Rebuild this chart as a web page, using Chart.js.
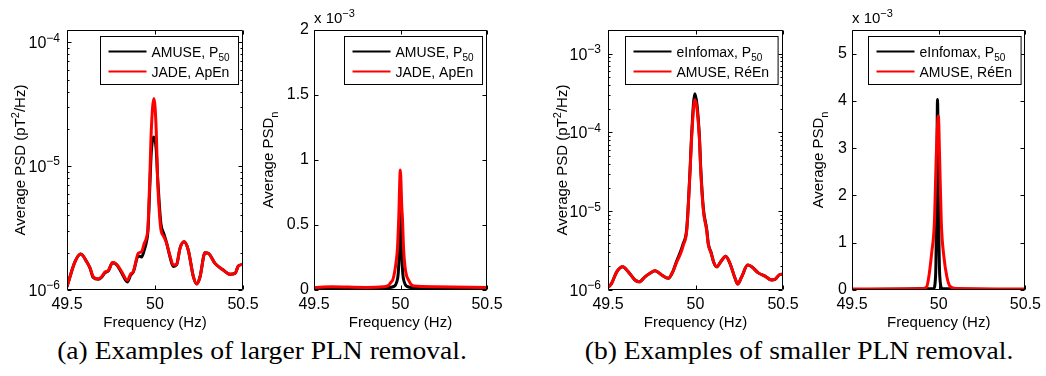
<!DOCTYPE html>
<html>
<head>
<meta charset="utf-8">
<script src="https://cdn.jsdelivr.net/npm/chart.js@4.4.0/dist/chart.umd.min.js"></script>
<style>
body { margin: 0; background: #fff; width: 1046px; height: 376px; position: relative; overflow: hidden; }
canvas { position: absolute; top: 0; }
.cap { position: absolute; top: 336px; font-family: "Liberation Serif", "DejaVu Serif", serif; font-size: 26px; white-space: nowrap; transform: translateX(-50%) scaleX(1.06); color: #000; }
</style>
</head>
<body>
<canvas id="c1" width="268" height="335" style="left:0px"></canvas>
<canvas id="c2" width="250" height="335" style="left:262px"></canvas>
<canvas id="c3" width="288" height="335" style="left:520px"></canvas>
<canvas id="c4" width="254" height="335" style="left:792px"></canvas>
<div class="cap" style="left:262px">(a) Examples of larger PLN removal.</div>
<div class="cap" style="left:799px">(b) Examples of smaller PLN removal.</div>
<script>
// shared x axis
const xTicks = [49.5, 50, 50.5]

// (a) left: average PSD, log axis
const freqA = [49.5, 49.517, 49.545, 49.578, 49.612, 49.631, 49.649, 49.678, 49.697, 49.716, 49.734, 49.759, 49.782, 49.81, 49.843, 49.862, 49.877, 49.905, 49.924, 49.939, 49.95, 49.96, 49.97, 49.979, 49.994, 50.007, 50.015, 50.025, 50.034, 50.05, 50.066, 50.085, 50.104, 50.123, 50.142, 50.165, 50.189, 50.218, 50.237, 50.256, 50.284, 50.303, 50.341, 50.388, 50.426, 50.455, 50.473, 50.5]
const psdA_amuse = [1.06e-6, 1.28e-6, 1.69e-6, 1.95e-6, 1.69e-6, 1.5e-6, 1.26e-6, 1.22e-6, 1.27e-6, 1.38e-6, 1.42e-6, 1.66e-6, 1.6e-6, 1.38e-6, 1.16e-6, 1.32e-6, 1.4e-6, 1.88e-6, 1.85e-6, 2.1e-6, 2.4e-6, 3.0e-6, 6.5e-6, 1.3e-5, 1.72e-5, 1.35e-5, 8.0e-6, 4.8e-6, 3.4e-6, 2.85e-6, 2.4e-6, 1.85e-6, 1.55e-6, 1.6e-6, 2.17e-6, 2.45e-6, 2.1e-6, 1.28e-6, 1.12e-6, 1.28e-6, 2.0e-6, 1.98e-6, 1.64e-6, 1.45e-6, 1.34e-6, 1.36e-6, 1.56e-6, 1.61e-6]
const psdA_jade = [1.06e-6, 1.28e-6, 1.69e-6, 1.95e-6, 1.69e-6, 1.5e-6, 1.28e-6, 1.23e-6, 1.28e-6, 1.4e-6, 1.43e-6, 1.67e-6, 1.61e-6, 1.41e-6, 1.2e-6, 1.35e-6, 1.41e-6, 1.98e-6, 2.04e-6, 2.38e-6, 2.6e-6, 3.2e-6, 7.7e-6, 1.95e-5, 3.52e-5, 1.95e-5, 7.7e-6, 4.2e-6, 3.05e-6, 2.7e-6, 2.38e-6, 1.9e-6, 1.59e-6, 1.61e-6, 2.17e-6, 2.45e-6, 2.1e-6, 1.28e-6, 1.12e-6, 1.28e-6, 2.0e-6, 1.98e-6, 1.64e-6, 1.45e-6, 1.34e-6, 1.36e-6, 1.56e-6, 1.61e-6]
const yExpA = [-6, -5, -4]

// (a) right: normalised PSD, x 10^-3
const freqB_amuse = [49.5, 49.9, 49.965, 49.978, 49.987, 49.993, 49.997, 50.0, 50.003, 50.007, 50.013, 50.022, 50.035, 50.1, 50.5]
const psdnB_amuse = [0.012, 0.015, 0.03, 0.06, 0.13, 0.3, 0.55, 0.667, 0.55, 0.3, 0.13, 0.06, 0.03, 0.015, 0.012]
const freqB_jade = [49.5, 49.6, 49.8, 49.9, 49.93, 49.945, 49.955, 49.965, 49.975, 49.982, 49.99, 49.999, 50.008, 50.011, 50.018, 50.026, 50.035, 50.046, 50.06, 50.08, 50.2, 50.5]
const psdnB_jade = [0.02, 0.025, 0.02, 0.025, 0.035, 0.06, 0.077, 0.13, 0.22, 0.31, 0.56, 0.923, 0.62, 0.56, 0.31, 0.18, 0.11, 0.077, 0.045, 0.03, 0.025, 0.02]
const yTicksB = [0, 0.5, 1, 1.5, 2]

// (b) left: average PSD, log axis
const freqC = [49.502, 49.521, 49.55, 49.584, 49.616, 49.654, 49.679, 49.711, 49.74, 49.769, 49.807, 49.845, 49.87, 49.893, 49.915, 49.93, 49.95, 49.969, 49.978, 49.996, 50.022, 50.03, 50.045, 50.064, 50.073, 50.09, 50.104, 50.121, 50.144, 50.173, 50.197, 50.226, 50.241, 50.264, 50.298, 50.321, 50.359, 50.397, 50.435, 50.454, 50.483, 50.5]
const psdC_infomax = [1.08e-6, 1.22e-6, 1.7e-6, 1.97e-6, 1.7e-6, 1.34e-6, 1.27e-6, 1.47e-6, 1.63e-6, 1.75e-6, 1.55e-6, 1.41e-6, 1.7e-6, 2.35e-6, 3.1e-6, 3.9e-6, 6.0e-6, 3.4e-5, 9.5e-5, 3.1e-4, 9.2e-5, 3.5e-5, 1.08e-5, 5.9e-6, 3.9e-6, 2.95e-6, 2.25e-6, 1.97e-6, 2.28e-6, 2.69e-6, 2.17e-6, 1.41e-6, 1.19e-6, 1.47e-6, 2.07e-6, 1.97e-6, 1.65e-6, 1.5e-6, 1.34e-6, 1.36e-6, 1.58e-6, 1.59e-6]
const psdC_amuse = [1.08e-6, 1.22e-6, 1.7e-6, 1.97e-6, 1.7e-6, 1.34e-6, 1.27e-6, 1.47e-6, 1.63e-6, 1.75e-6, 1.55e-6, 1.41e-6, 1.7e-6, 2.28e-6, 2.9e-6, 3.7e-6, 5.7e-6, 3.27e-5, 8.6e-5, 2.63e-4, 8.6e-5, 3.27e-5, 1.02e-5, 5.7e-6, 3.8e-6, 2.9e-6, 2.25e-6, 1.97e-6, 2.28e-6, 2.69e-6, 2.17e-6, 1.41e-6, 1.19e-6, 1.47e-6, 2.07e-6, 1.97e-6, 1.65e-6, 1.5e-6, 1.34e-6, 1.36e-6, 1.58e-6, 1.59e-6]
const yExpC = [-6, -5, -4, -3]

// (b) right: normalised PSD, x 10^-3
const freqD_infomax = [49.5, 49.97, 49.982, 49.987, 49.99, 49.993, 49.997, 50.0, 50.006, 50.02, 50.5]
const psdnD_infomax = [0.01, 0.03, 0.3, 1.5, 3.0, 4.03, 3.0, 1.5, 0.3, 0.03, 0.01]
const freqD_amuse = [49.5, 49.9, 49.93, 49.943, 49.96, 49.975, 49.986, 49.998, 50.005, 50.015, 50.03, 50.047, 50.065, 50.1, 50.5]
const psdnD_amuse = [0.02, 0.025, 0.06, 0.28, 0.8, 1.42, 2.83, 3.68, 2.83, 1.42, 0.7, 0.28, 0.08, 0.03, 0.02]
const yTicksD = [0, 1, 2, 3, 4, 5]

const legendA = ['AMUSE, P_{50}', 'JADE, ApEn']
const legendB = ['eInfomax, P_{50}', 'AMUSE, RéEn']
const titlePSD = 'Average PSD (pT^{2}/Hz)'
const titlePSDn = 'Average PSD_{n}'

const FONT = '"Liberation Sans", Arial, sans-serif'
Chart.defaults.font.family = FONT
Chart.defaults.color = '#000'

// split 'P_{50}' style strings into plain / sub / sup pieces
function parts(str) {
    const out = []
    const re = /([_^])\{([^}]*)\}/g
    let last = 0, m
    while ((m = re.exec(str)) !== null) {
        if (m.index > last) out.push({t: str.slice(last, m.index), k: 0})
        out.push({t: m[2], k: m[1] === '^' ? 1 : -1})
        last = re.lastIndex
    }
    if (last < str.length) out.push({t: str.slice(last), k: 0})
    return out
}
function richWidth(ctx, str, size) {
    let w = 0
    parts(str).forEach(p => {
        ctx.font = (p.k ? Math.round(size * 0.72) : size) + 'px ' + FONT
        w += ctx.measureText(p.t).width
    })
    return w
}
function drawRich(ctx, str, x, y, size) {
    parts(str).forEach(p => {
        const s = p.k ? Math.round(size * 0.72) : size
        ctx.font = s + 'px ' + FONT
        const dy = p.k === 1 ? -size * 0.42 : p.k === -1 ? size * 0.32 : 0
        ctx.fillText(p.t, x, y + dy)
        x += ctx.measureText(p.t).width
    })
}

const matlabAxes = {
    id: 'matlabAxes',
    afterDatasetsDraw(chart, args, o) {
        const ctx = chart.ctx
        const a = chart.chartArea
        const xs = chart.scales.x, ys = chart.scales.y
        const L = Math.round(a.left) + 0.5, R = Math.round(a.right) - 0.5
        const T = Math.round(a.top) + 0.5, B = Math.round(a.bottom) - 0.5
        ctx.save()
        ctx.strokeStyle = '#000'
        ctx.lineWidth = 1
        ctx.beginPath()
        ctx.rect(L, T, R - L, B - T)
        xTicks.forEach(v => {
            const px = Math.round(xs.getPixelForValue(v)) + 0.5
            ctx.moveTo(px, B); ctx.lineTo(px, B - 4)
            ctx.moveTo(px, T); ctx.lineTo(px, T + 4)
        })
        const major = o.log ? o.yTicks.map(e => Math.pow(10, e)) : o.yTicks
        major.forEach(v => {
            const py = Math.round(ys.getPixelForValue(v)) + 0.5
            ctx.moveTo(L, py); ctx.lineTo(L + 4, py)
            ctx.moveTo(R, py); ctx.lineTo(R - 4, py)
        })
        if (o.log) {
            o.yTicks.forEach(e => {
                for (let m = 2; m <= 9; m++) {
                    const v = m * Math.pow(10, e)
                    if (v > ys.max) break
                    const py = Math.round(ys.getPixelForValue(v)) + 0.5
                    ctx.moveTo(L, py); ctx.lineTo(L + 2, py)
                    ctx.moveTo(R, py); ctx.lineTo(R - 2, py)
                }
            })
        }
        ctx.stroke()

        ctx.fillStyle = '#000'
        ctx.textBaseline = 'alphabetic'
        ctx.textAlign = 'left'
        // log tick labels 10^k
        if (o.log) {
            o.yTicks.forEach(e => {
                const py = ys.getPixelForValue(Math.pow(10, e))
                const lab = '10^{' + String(e).replace('-', '\u2212') + '}'
                const w = richWidth(ctx, lab, 16)
                drawRich(ctx, lab, a.left - 7 - w, py + 6, 16)
            })
        } else {
            drawRich(ctx, 'x 10^{\u22123}', a.left, 23, 15)
        }

        // legend box
        const fs = 14
        let tw = 0
        o.legend.forEach(s => { tw = Math.max(tw, richWidth(ctx, s, fs)) })
        const bw = 8 + 38 + 5 + tw + 9, bh = 48
        const bx = Math.round(a.right - 5 - bw) + 0.5, by = Math.round(a.top + 6) + 0.5
        ctx.fillStyle = '#fff'
        ctx.fillRect(bx, by, bw, bh)
        ctx.strokeStyle = '#000'
        ctx.lineWidth = 1
        ctx.strokeRect(bx, by, bw, bh)
        o.legend.forEach((s, i) => {
            const ly = by + 15 + i * 20
            ctx.strokeStyle = i === 0 ? '#000' : '#f00'
            ctx.lineWidth = 2
            ctx.beginPath()
            ctx.moveTo(bx + 8, ly); ctx.lineTo(bx + 46, ly)
            ctx.stroke()
            ctx.fillStyle = '#000'
            drawRich(ctx, s, bx + 51, ly + 5, fs)
        })

        // y axis title, rotated
        ctx.save()
        ctx.translate(a.left - o.titleOff, (a.top + a.bottom) / 2)
        ctx.rotate(-Math.PI / 2)
        const tws = richWidth(ctx, o.title, 15)
        ctx.fillStyle = '#000'
        drawRich(ctx, o.title, -tws / 2, 5, 15)
        ctx.restore()
        ctx.restore()
    }
}

function pts(xs, ys) {
    return xs.map((x, i) => ({x: x, y: ys[i]}))
}

function makePanel(id, p) {
    return new Chart(document.getElementById(id), {
        type: 'line',
        data: {
            datasets: [{
                label: p.legend[0],
                data: pts(p.x0, p.y0),
                borderColor: '#000',
                borderWidth: 3,
                pointRadius: 0,
                cubicInterpolationMode: 'monotone',
                order: 2
            }, {
                label: p.legend[1],
                data: pts(p.x1, p.y1),
                borderColor: '#f00',
                borderWidth: 3,
                pointRadius: 0,
                cubicInterpolationMode: 'monotone',
                order: 1
            }]
        },
        options: {
            responsive: false,
            animation: false,
            events: [],
            layout: {padding: {left: 0, right: p.padRight, top: 30, bottom: 0}},
            plugins: {
                legend: {display: false},
                tooltip: {enabled: false},
                matlabAxes: {log: p.log, yTicks: p.yTicks, legend: p.legend, title: p.title, titleOff: p.titleOff}
            },
            scales: {
                x: {
                    type: 'linear',
                    min: 49.5,
                    max: 50.5,
                    afterBuildTicks: s => { s.ticks = xTicks.map(v => ({value: v})) },
                    grid: {display: false, drawTicks: false},
                    border: {display: false},
                    ticks: {font: {size: 16}, padding: 5, maxRotation: 0, callback: v => String(v)},
                    title: {display: true, text: 'Frequency (Hz)', font: {size: 15}, padding: {top: 0, bottom: 3}},
                    afterFit: s => { s.height = 45 }
                },
                y: {
                    type: p.log ? 'logarithmic' : 'linear',
                    min: p.ymin,
                    max: p.ymax,
                    afterBuildTicks: s => { if (!p.log) s.ticks = p.yTicks.map(v => ({value: v})) },
                    grid: {display: false, drawTicks: false},
                    border: {display: false},
                    ticks: {display: !p.log, font: {size: 16}, padding: 5, callback: v => String(v)},
                    afterFit: s => { s.width = p.yWidth }
                }
            }
        },
        plugins: [matlabAxes]
    })
}

makePanel('c1', {log: true, x0: freqA, y0: psdA_amuse, x1: freqA, y1: psdA_jade, ymin: 1e-6, ymax: 1.256e-4,
    yTicks: yExpA, legend: legendA, title: titlePSD, titleOff: 47, yWidth: 67, padRight: 25})
makePanel('c2', {log: false, x0: freqB_amuse, y0: psdnB_amuse, x1: freqB_jade, y1: psdnB_jade, ymin: 0, ymax: 2,
    yTicks: yTicksB, legend: legendA, title: titlePSDn, titleOff: 46, yWidth: 52, padRight: 25})
makePanel('c3', {log: true, x0: freqC, y0: psdC_infomax, x1: freqC, y1: psdC_amuse, ymin: 1e-6, ymax: 2e-3,
    yTicks: yExpC, legend: legendB, title: titlePSD, titleOff: 46, yWidth: 88, padRight: 25})
makePanel('c4', {log: false, x0: freqD_infomax, y0: psdnD_infomax, x1: freqD_amuse, y1: psdnD_amuse, ymin: 0, ymax: 5.5,
    yTicks: yTicksD, legend: legendB, title: titlePSDn, titleOff: 34, yWidth: 60, padRight: 18})
</script>
</body>
</html>
